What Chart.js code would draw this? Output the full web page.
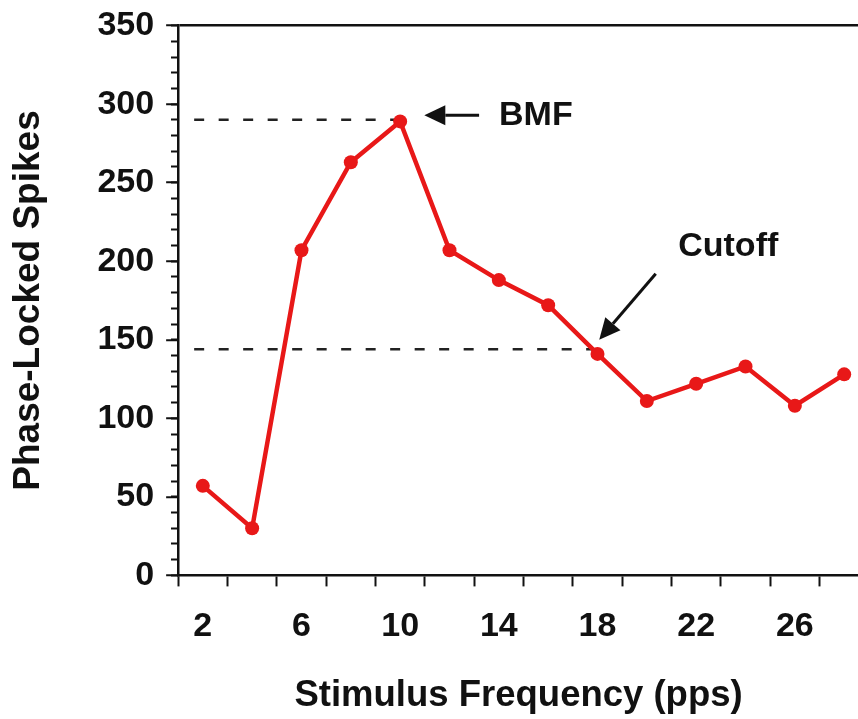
<!DOCTYPE html>
<html>
<head>
<meta charset="utf-8">
<script src="https://cdn.jsdelivr.net/npm/chart.js@4/dist/chart.umd.min.js"></script>
<style>
  html, body { margin: 0; padding: 0; background: #fff; overflow: hidden; }
  #wrap { width: 866px; height: 719px; position: relative; }
</style>
</head>
<body>
<div id="wrap"><canvas id="chart"></canvas></div>
<script>
// Datos
const freq = [2, 4, 6, 8, 10, 12, 14, 16, 18, 20, 22, 24, 26, 28];
const spikes = [57, 30, 207, 263, 289, 207, 188, 172, 141, 111, 122, 133, 108, 128];

// Ejes
const xTickMarks = [1, 3, 5, 7, 9, 11, 13, 15, 17, 19, 21, 23, 25, 27];
const xTickLabels = [2, 6, 10, 14, 18, 22, 26];
const yTickLabels = [0, 50, 100, 150, 200, 250, 300, 350];

// Líneas guía (BMF y Cutoff)
const guideLevels = [290, 144];
const guideStart = [1.65, 1.65];
const guideEnd = [10, 17.95];

// Anotaciones
const noteText = ['BMF', 'Cutoff'];
const noteX = [15.5, 23.3];
const noteY = [293, 209];
const arrowFrom = [[13.2, 293], [20.36, 192]];
const arrowTo = [[10.98, 293], [18.07, 150]];

const RED = '#e81818';
const INK = '#111';
const FONT = "'Liberation Sans', Arial, sans-serif";

const notesPlugin = {
    id: 'notes',
    afterDatasetsDraw(chart) {
        const { ctx, scales: { x, y } } = chart;
        ctx.save();
        ctx.strokeStyle = INK;
        ctx.fillStyle = INK;
        arrowFrom.forEach((from, i) => {
            const x0 = x.getPixelForValue(from[0]), y0 = y.getPixelForValue(from[1]);
            const x1 = x.getPixelForValue(arrowTo[i][0]), y1 = y.getPixelForValue(arrowTo[i][1]);
            const ang = Math.atan2(y1 - y0, x1 - x0);
            const head = 21, half = 10;
            const bx = x1 - head * Math.cos(ang), by = y1 - head * Math.sin(ang);
            ctx.lineWidth = 3;
            ctx.beginPath();
            ctx.moveTo(x0, y0);
            ctx.lineTo(bx, by);
            ctx.stroke();
            ctx.beginPath();
            ctx.moveTo(x1, y1);
            ctx.lineTo(bx + half * Math.sin(ang), by - half * Math.cos(ang));
            ctx.lineTo(bx - half * Math.sin(ang), by + half * Math.cos(ang));
            ctx.closePath();
            ctx.fill();
        });
        ctx.font = 'bold 34px ' + FONT;
        ctx.textAlign = 'center';
        ctx.textBaseline = 'middle';
        noteText.forEach((t, i) => {
            ctx.fillText(t, x.getPixelForValue(noteX[i]), y.getPixelForValue(noteY[i]));
        });
        ctx.restore();
    }
};

function initChart() {
    const datasets = [{
        data: freq.map((f, i) => ({ x: f, y: spikes[i] })),
        borderColor: RED,
        backgroundColor: RED,
        borderWidth: 4.5,
        pointRadius: 7,
        pointBorderWidth: 0,
        pointBackgroundColor: RED,
        tension: 0
    }];
    guideLevels.forEach((lv, i) => {
        datasets.push({
            data: [{ x: guideStart[i], y: lv }, { x: guideEnd[i], y: lv }],
            borderColor: '#222',
            borderWidth: 2.5,
            borderDash: [10, 14.5],
            pointRadius: 0
        });
    });

    const allX = [...xTickMarks, ...xTickLabels].sort((a, b) => a - b);

    new Chart(document.getElementById('chart'), {
        type: 'line',
        data: { datasets },
        options: {
            responsive: true,
            maintainAspectRatio: false,
            animation: false,
            layout: { padding: { top: 24, left: 0, right: 0, bottom: 0 } },
            plugins: { legend: { display: false }, tooltip: { enabled: false } },
            scales: {
                x: {
                    type: 'linear',
                    min: 1,
                    max: 28.6,
                    afterBuildTicks: axis => { axis.ticks = allX.map(v => ({ value: v })); },
                    ticks: {
                        autoSkip: false,
                        maxRotation: 0,
                        padding: 20,
                        color: INK,
                        font: { family: FONT, size: 34, weight: 'bold' },
                        callback: v => xTickLabels.includes(v) ? String(v) : ''
                    },
                    grid: {
                        drawOnChartArea: false,
                        tickLength: 11,
                        tickWidth: 2,
                        tickColor: c => (c.tick && xTickMarks.includes(c.tick.value)) ? INK : 'transparent'
                    },
                    border: { color: INK, width: 2.5 },
                    title: {
                        display: true,
                        text: 'Stimulus Frequency (pps)',
                        color: INK,
                        font: { family: FONT, size: 36.5, weight: 'bold' },
                        padding: { top: 7, bottom: 1 }
                    }
                },
                y: {
                    min: 0,
                    max: 350,
                    afterBuildTicks: axis => { axis.ticks = yTickLabels.map(v => ({ value: v })); },
                    ticks: {
                        padding: 12,
                        color: INK,
                        font: { family: FONT, size: 34, weight: 'bold', lineHeight: 0.8 }
                    },
                    grid: {
                        color: c => (c.tick && c.tick.value === 350) ? INK : 'transparent',
                        lineWidth: 2.5,
                        tickLength: 12,
                        tickWidth: 2,
                        tickColor: INK
                    },
                    border: { color: INK, width: 2.5 },
                    title: {
                        display: true,
                        text: 'Phase-Locked Spikes',
                        color: INK,
                        font: { family: FONT, size: 37, weight: 'bold' },
                        padding: { top: 7, bottom: 34 }
                    }
                },
                yMinor: {
                    axis: 'y',
                    type: 'linear',
                    position: { x: 1 },
                    min: 0,
                    max: 350,
                    ticks: { display: false, stepSize: 10 },
                    grid: { drawOnChartArea: false, tickLength: 7, tickWidth: 2, tickColor: INK },
                    border: { display: false }
                }
            }
        },
        plugins: [notesPlugin]
    });
}

window.onload = initChart;
</script>
</body>
</html>
